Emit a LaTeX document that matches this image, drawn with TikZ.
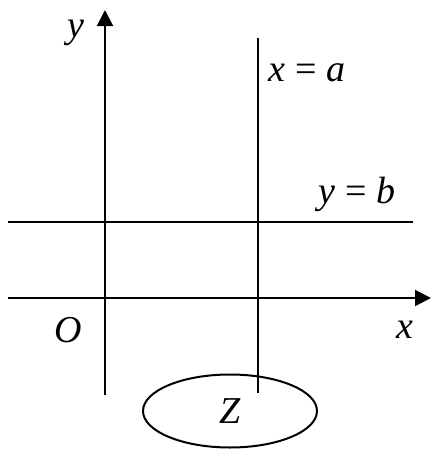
\documentclass[tikz,border=0pt]{standalone}
\usepackage{fontspec}
\setmainfont{Liberation Serif}
\usetikzlibrary{arrows.meta,positioning,shapes.geometric}

\begin{document}
\begin{tikzpicture}[
  x=0.5pt, y=-0.5pt,
  every node/.style={font=\fontsize{19}{22}\selectfont},
  axis/.style={-{Triangle[length=8pt, width=8pt]}, line width=1pt},
  guide/.style={line width=1pt},
  region/.style={ellipse, draw, line width=1pt, minimum width=87pt,
    minimum height=36.5pt, inner sep=0pt},
]
\useasboundingbox (0,0) rectangle (431,450);

% Axes
\coordinate (ybot) at (105,395);
\coordinate (ytop) at (105,10);
\coordinate (xleft) at (8,298);
\coordinate (xright) at (431,298);
\draw[axis] (ybot) -- (ytop);
\draw[axis] (xleft) -- (xright);

% Lines x = a and y = b
\coordinate (atop) at (258,38);
\coordinate (abot) at (258,393);
\coordinate (bleft) at (8,222);
\coordinate (bright) at (413,222);
\draw[guide] (atop) -- (abot);
\draw[guide] (bleft) -- (bright);

% Region
\node[region] (zset) at (230,411) {\textit{Z}};

% Labels
\node (ylab) at (76,33) {\textit{y}};
\node (xlab) at (405,330) {\textit{x}};
\node (olab) at (68,330) {\textit{O}};
\node (alab) at (307,73) {\textit{x} = \textit{a}};
\node (blab) at (357,194) {\textit{y} = \textit{b}};
\end{tikzpicture}
\end{document}
